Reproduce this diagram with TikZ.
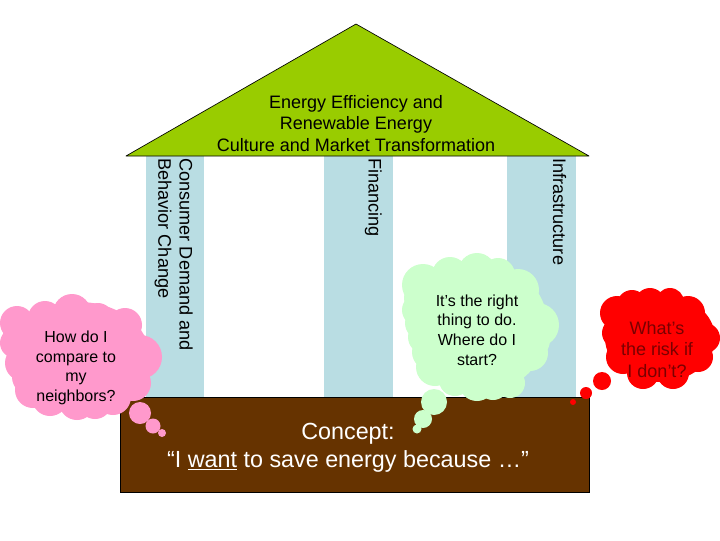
\documentclass[tikz,border=0pt]{standalone}
\usepackage{fontspec}
\setmainfont{Liberation Sans}
\definecolor{roofgreen}{HTML}{99CC00}
\definecolor{pillarblue}{HTML}{B9DDE3}
\definecolor{soilbrown}{HTML}{663300}
\definecolor{cloudpink}{HTML}{FF99CC}
\definecolor{cloudgreen}{HTML}{CCFFCC}
\definecolor{cloudred}{HTML}{FF0000}
\definecolor{darkred}{HTML}{7A0000}
\newcommand{\bumps}[1]{\foreach \px/\py/\pr in {#1} {\fill (\px,\py) circle[radius=\pr];}}
\tikzset{
  pillarbox/.style={fill=pillarblue,draw=none},
  roofshape/.style={fill=roofgreen,draw=black,line width=0.5pt,line join=round},
  soilbox/.style={fill=soilbrown,draw=black,line width=0.5pt},
  rooflabel/.style={align=center,font=\fontsize{13.5}{16.2}\selectfont,inner sep=0pt},
  pillarlabel/.style={rotate=-90,anchor=north west,align=left,font=\fontsize{13.6}{15.9}\selectfont,inner sep=0pt},
  soillabel/.style={align=center,text=white,font=\fontsize{17.5}{21}\selectfont,inner sep=0pt},
  bubblelabel/.style={align=center,font=\fontsize{12}{14.7}\selectfont,inner sep=0pt},
  risklabel/.style={align=center,text=darkred,font=\fontsize{13.5}{15.8}\selectfont,inner sep=0pt}
}
\begin{document}
\begin{tikzpicture}[x=0.75pt,y=-0.75pt]
\useasboundingbox (0,0) rectangle (720,540);
\fill[white] (0,0) rectangle (720,540);
% pillars
\fill[pillarbox] (146,156) rectangle (204,397);
\fill[pillarbox] (324,156) rectangle (393,397);
\fill[pillarbox] (507,156) rectangle (576,397);
% roof and foundation
\draw[roofshape] (126,156) -- (356,24) -- (589,156) -- cycle;
\draw[soilbox] (120,397) rectangle (589,492);
% text on structure
\node[rooflabel] (roof) at (356,123.5) {Energy Efficiency and\\Renewable Energy\\Culture and Market Transformation};
\node[pillarlabel] (consumer) at (193,158) {Consumer Demand and\\Behavior Change};
\node[pillarlabel] (financing) at (382,158) {Financing};
\node[pillarlabel] (infra) at (566.5,158) {Infrastructure};
\node[soillabel] (concept) at (348,447.5) {Concept:\\“I \underline{want} to save energy because …”};
% pink cloud
\begin{scope}[fill=cloudpink]
\fill (79,357) ellipse[x radius=71,y radius=55];
\bumps{72/313/19,125/325/17,17/323/17,15/343/15,23/363/18,33/390/18,77/402/18,113/397/18,133/383/18,140/357/22,45/318/17,98/318/15,50/398/18,20/333/17,25/352/18,30/377/18,95/402/17,125/340/18}
\bumps{140/413/11,153/426/7.5,162/433/4}
\end{scope}
% green cloud
\begin{scope}[fill=cloudgreen]
\fill (480,327) ellipse[x radius=68,y radius=66];
\bumps{477/272/19,423/285/21,450/275/18,418/310/16,425/337/17,435/367/19,477/383/18,510/383/15,530/353/18,537/325/22,518/290/21,455/380/16,422/298/18,422/323/17,430/352/18,498/275/17,530/340/20,493/384/16}
\bumps{434/402/13,423/419/9,417/429/4.5}
\end{scope}
% red cloud
\begin{scope}[fill=cloudred]
\fill (660,338) ellipse[x radius=55,y radius=44];
\bumps{650/303/15,617/313/17,688/313/17,617/333/15,623/357/17,643/373/16,673/373/16,698/357/15,705/338/15,632/305/15,670/302/14}
\bumps{602/381/9,586/393/6,573/402/3}
\end{scope}
% cloud texts
\node[bubblelabel] (neighbors) at (76,368) {How do I\\compare to\\my\\neighbors?};
\node[bubblelabel] (rightthing) at (477,330) {It’s the right\\thing to do.\\Where do I\\start?};
\node[risklabel] (risk) at (657,349.5) {What’s\\the risk if\\I don’t?};
\end{tikzpicture}
\end{document}
